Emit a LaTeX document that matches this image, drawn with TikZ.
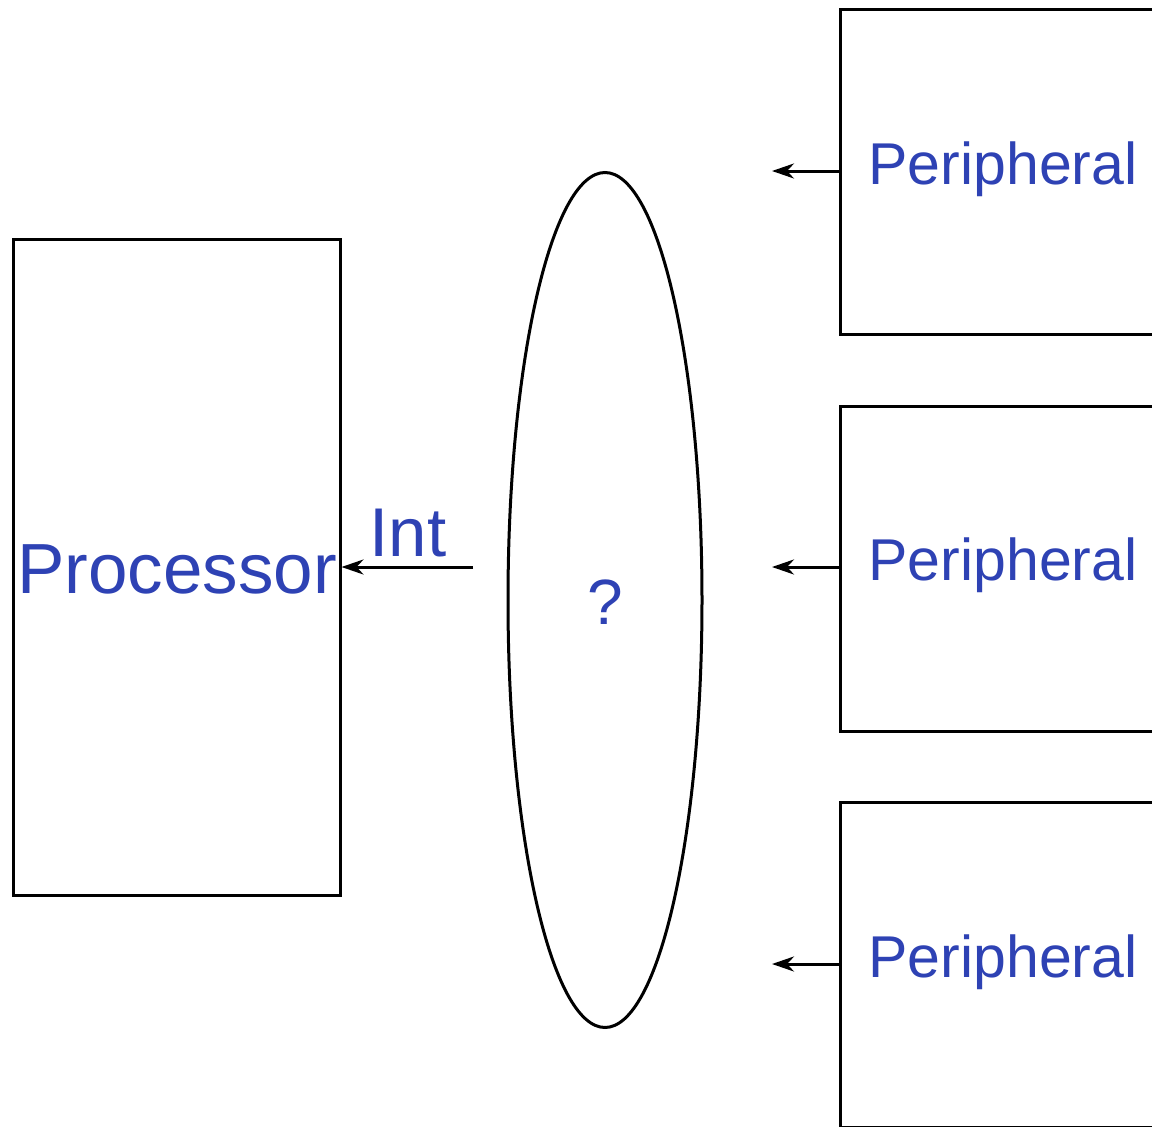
\documentclass[tikz,border=0pt]{standalone}
\usepackage{fontspec}
\setmainfont{Liberation Sans}
\usetikzlibrary{arrows.meta,shapes.geometric}
\definecolor{lblue}{RGB}{46,66,180}
\begin{document}
\begin{tikzpicture}[x=1pt,y=-1pt,
  box/.style={draw,line width=3pt,minimum width=327pt,minimum height=656pt,inner sep=0pt},
  pbox/.style={draw,line width=3pt,minimum width=328pt,minimum height=325pt,inner sep=0pt},
  lbl/.style={text=lblue,font=\fontsize{59}{60}\selectfont,inner sep=0pt},
  conn/.style={line width=3pt,-{Stealth[length=22pt,width=15pt,inset=7pt]}}]
\useasboundingbox (0,0) rectangle (1152,1127);
\clip (0,0) rectangle (1152,1127);
\node[box] (proc) at (176.5,567) {};
\node[lbl,font=\fontsize{71}{72}\selectfont] (proctext) at (177,569) {Processor};
\node[draw,line width=3pt,ellipse,minimum width=194pt,minimum height=855pt,inner sep=0pt] (ell) at (605,600) {};
\node[lbl,font=\fontsize{64}{66}\selectfont] (q) at (605,602) {?};
\node[pbox,anchor=north west] (p1) at (839,8) {};
\node[pbox,anchor=north west] (p2) at (839,404.5) {};
\node[pbox,anchor=north west] (p3) at (839,801) {};
\node[lbl] (t1) at (1003,169) {Peripheral};
\node[lbl] (t2) at (1003,565) {Peripheral};
\node[lbl] (t3) at (1003,962) {Peripheral};
\coordinate (a1) at (772,171);
\coordinate (a2) at (772,567);
\coordinate (a3) at (772,964);
\draw[conn] (p1.west |- a1) -- (a1);
\draw[conn] (p2.west |- a2) -- (a2);
\draw[conn] (p3.west |- a3) -- (a3);
\coordinate (intstart) at (473,567);
\draw[conn] (intstart) -- (proc.east |- intstart);
\node[lbl,font=\fontsize{69}{70}\selectfont] (int) at (408,533) {Int};
\end{tikzpicture}
\end{document}
